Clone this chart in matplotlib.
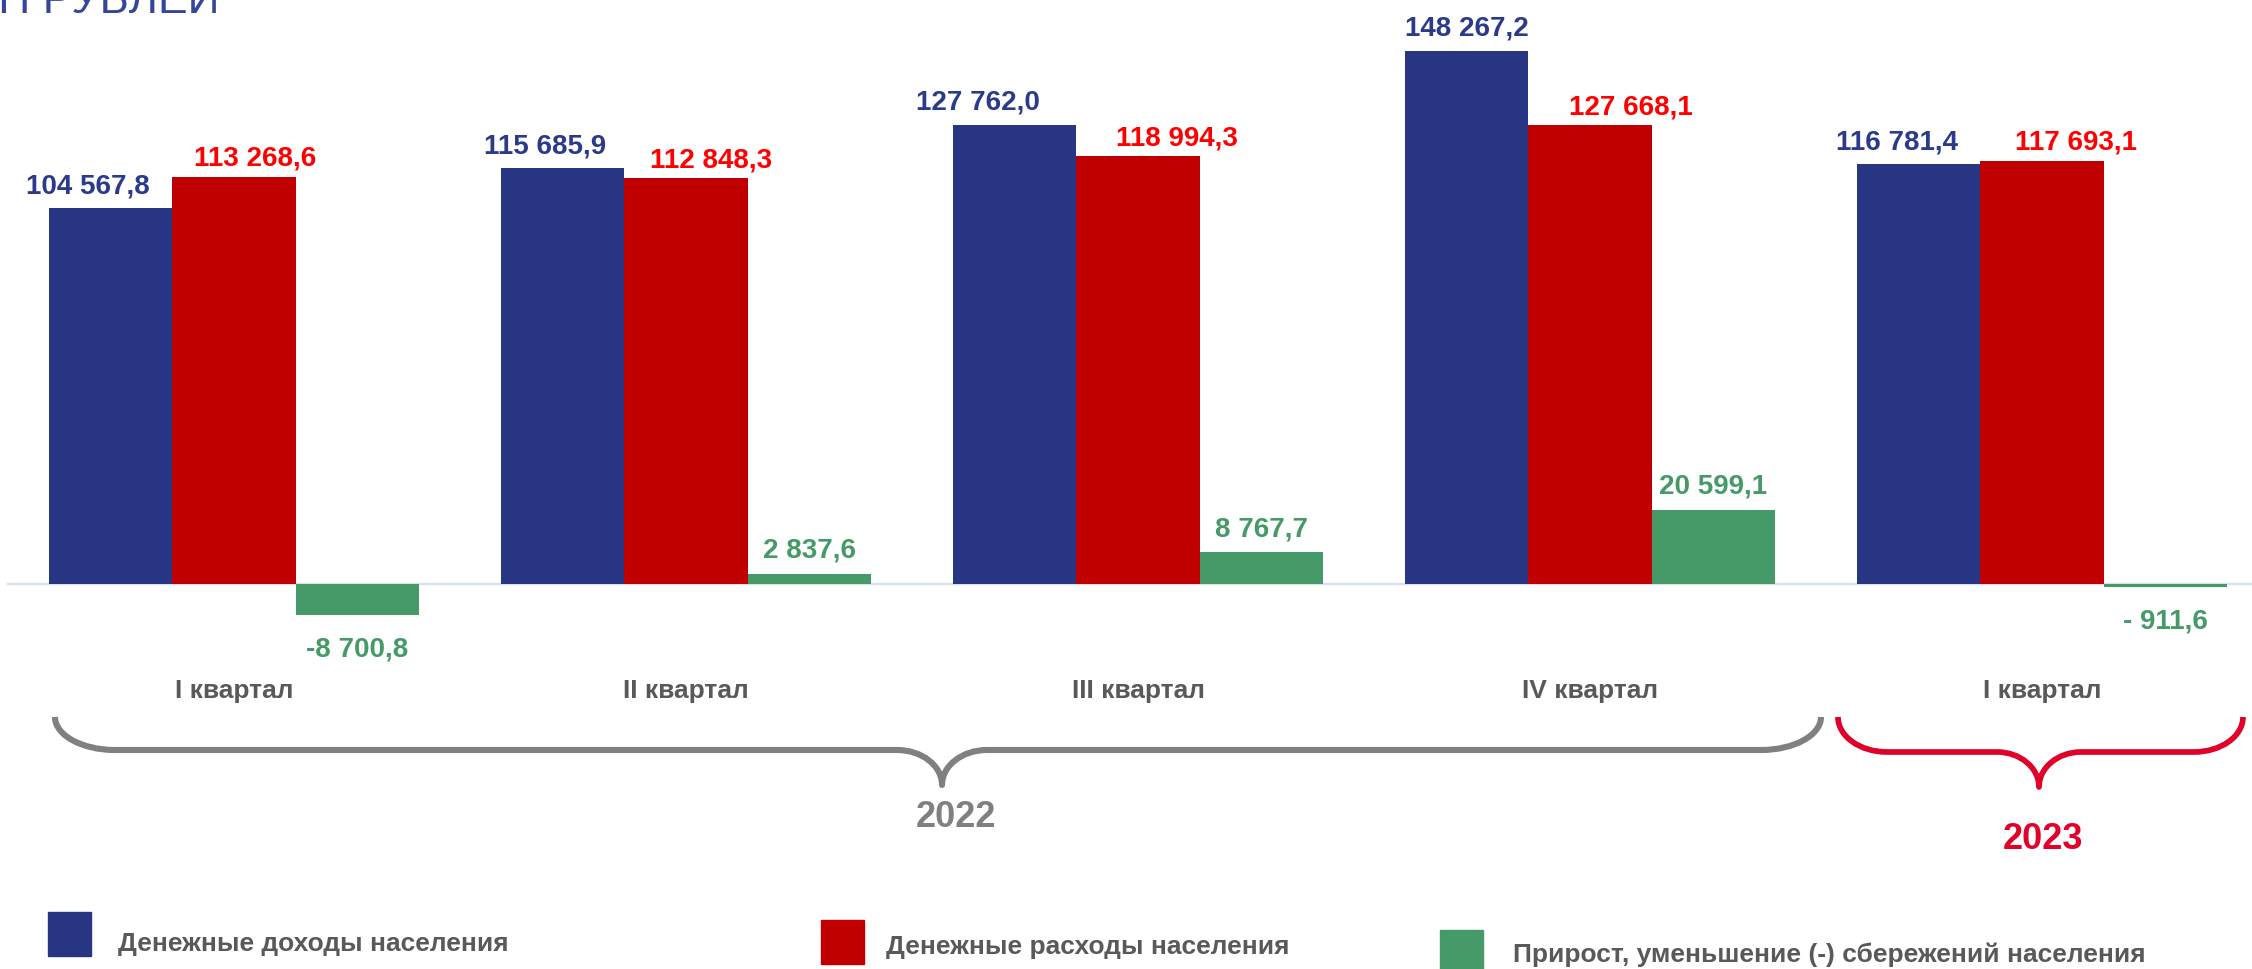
import numpy as np
import matplotlib.pyplot as plt
from matplotlib.path import Path
from matplotlib.patches import PathPatch, Rectangle

plt.rcParams["font.family"] = ["Liberation Sans", "DejaVu Sans"]

# data, млн рублей
quarters = ["I квартал", "II квартал", "III квартал", "IV квартал", "I квартал"]
income = [104567.8, 115685.9, 127762.0, 148267.2, 116781.4]
spending = [113268.6, 112848.3, 118994.3, 127668.1, 117693.1]
savings = [-8700.8, 2837.6, 8767.7, 20599.1, -911.6]
savings_labels = ["-8 700,8", "2 837,6", "8 767,7", "20 599,1", "- 911,6"]
series_names = [
    "Денежные доходы населения",
    "Денежные расходы населения",
    "Прирост, уменьшение (-) сбережений населения",
]
years = ["2022", "2023"]

BLUE = "#283583"
RED = "#C00000"
GREEN = "#459A68"
GREY_TXT = "#595959"

W, H = 2252, 970


def fmt(v):
    return f"{v:,.1f}".replace(",", " ").replace(".", ",")


def brace(ax, x0, x1, xm, ytop, ymid, ytip, rx, tx, color, lw):
    k = 0.552
    verts = [
        (x0, ytop),
        (x0, ytop + k * (ymid - ytop)), (x0 + rx - k * rx, ymid), (x0 + rx, ymid),
        (xm - tx, ymid),
        (xm - tx + k * tx, ymid), (xm, ytip - k * (ytip - ymid)), (xm, ytip),
        (xm, ytip - k * (ytip - ymid)), (xm + tx - k * tx, ymid), (xm + tx, ymid),
        (x1 - rx, ymid),
        (x1 - rx + k * rx, ymid), (x1, ytop + k * (ymid - ytop)), (x1, ytop),
    ]
    codes = [Path.MOVETO] + [Path.CURVE4] * 3 + [Path.LINETO] + [Path.CURVE4] * 6 \
        + [Path.LINETO] + [Path.CURVE4] * 3
    ax.add_patch(PathPatch(Path(verts, codes), fill=False, edgecolor=color,
                           lw=lw, capstyle="butt", joinstyle="round"))


fig = plt.figure(figsize=(W / 100, H / 100), dpi=100)
ax = fig.add_axes([0, 0, 1, 1])

# scale: group spacing 452 px, 3.595 px per 1000, baseline at 585 px
x = np.arange(len(quarters))
ax.set_xlim(-234 / 452, (W - 234) / 452)
ax.set_ylim(-(H - 585) / 3.595 * 1000, 585 / 3.595 * 1000)
ax.axis("off")

bw = 0.2732
ax.plot([-0.5, 4.5], [0, 0], color="#D6E0EF", lw=1.6, zorder=0.5)
ax.bar(x - bw, income, bw, color=BLUE, zorder=2)
ax.bar(x, spending, bw, color=RED, zorder=2)
ax.bar(x + bw, savings, bw, color=GREEN, zorder=2)

blue_dx = [-23, -17, -37, 0, -22]
red_dx = [21, 25, 39, 41, 34]
for i in range(len(quarters)):
    ax.annotate(fmt(income[i]), (x[i] - bw, income[i]), xytext=(blue_dx[i], 16),
                textcoords="offset pixels", ha="center", va="baseline",
                fontsize=20, fontweight="bold", color="#2B3A8A")
    ax.annotate(fmt(spending[i]), (x[i], spending[i]), xytext=(red_dx[i], 12),
                textcoords="offset pixels", ha="center", va="baseline",
                fontsize=20, fontweight="bold", color="#FF0000")
    if savings[i] >= 0:
        ax.annotate(savings_labels[i], (x[i] + bw, savings[i]), xytext=(0, 17),
                    textcoords="offset pixels", ha="center", va="baseline",
                    fontsize=20, fontweight="bold", color=GREEN)
    else:
        ax.annotate(savings_labels[i], (x[i] + bw, savings[i]), xytext=(0, -20),
                    textcoords="offset pixels", ha="center", va="top",
                    fontsize=20, fontweight="bold", color=GREEN)
    ax.text(x[i], (H - 698) / H, quarters[i], transform=ax.get_xaxis_transform(),
            ha="center", va="baseline", fontsize=19, fontweight="bold", color=GREY_TXT)

# overlay in pixel coordinates for decorations
deco = fig.add_axes([0, 0, 1, 1], facecolor="none")
deco.set_xlim(0, W)
deco.set_ylim(H, 0)
deco.axis("off")

deco.text(220, 13, "МЛН РУБЛЕЙ", ha="right", va="baseline", fontsize=32,
          color="#34469A")

brace(deco, 55, 1821, 942, 718, 751, 786, 60, 45, "#808080", 4.4)
brace(deco, 1838, 2243, 2039, 718, 753, 788, 49, 42, "#E0002A", 4.1)
deco.text(956, 827, years[0], ha="center", va="baseline", fontsize=26,
          fontweight="bold", color="#808080")
deco.text(2043, 849, years[1], ha="center", va="baseline", fontsize=26,
          fontweight="bold", color="#E0002A")

# legend
legend_items = [
    (48, 913, 118, 951, BLUE),
    (821, 921, 886, 954, RED),
    (1440, 931, 1513, 962, GREEN),
]
for name, (sx, sy, tx, ty, col) in zip(series_names, legend_items):
    deco.add_patch(Rectangle((sx, sy), 43, 44, color=col))
    deco.text(tx, ty, name, ha="left", va="baseline", fontsize=19,
              fontweight="bold", color=GREY_TXT)

fig.savefig("out.png", dpi=100)
